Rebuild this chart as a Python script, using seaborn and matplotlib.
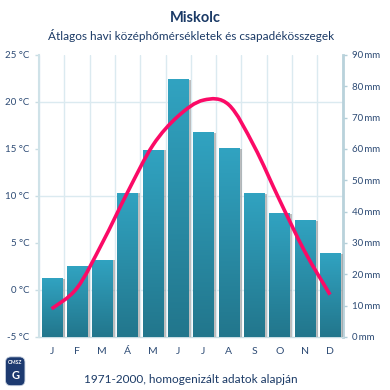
"""Miskolc climate chart: monthly mean temperature and precipitation."""

import matplotlib

matplotlib.use("Agg")
import matplotlib.pyplot as plt
import numpy as np
import pandas as pd
import seaborn as sns
from matplotlib.colors import LinearSegmentedColormap
from matplotlib.patches import FancyBboxPatch, PathPatch
from matplotlib.path import Path
from matplotlib.patheffects import Normal, SimplePatchShadow
from matplotlib.ticker import FixedLocator


MONTHS = ["J", "F", "M", "Á", "M", "J", "J", "A", "S", "O", "N", "D"]
PRECIP_MM = [18.8, 22.5, 24.7, 46.1, 59.8, 82.2, 65.4, 60.3, 46.0, 39.5, 37.4, 26.8]
TEMP_C = [-2.0, 0.2, 5.0, 10.4, 15.4, 18.5, 20.2, 19.7, 15.3, 9.6, 4.1, -0.5]
TEMP_TICKS = [-5, 0, 5, 10, 15, 20, 25]
PRECIP_TICKS = [0, 10, 20, 30, 40, 50, 60, 70, 80, 90]

TITLE = "Miskolc"
SUBTITLE = "Átlagos havi középhőmérsékletek és csapadékösszegek"
FOOTNOTE = "1971-2000, homogenizált adatok alapján"

TEXT_COLOR = "#2c4a74"
TITLE_COLOR = "#1b3a66"
GRID_COLOR = "#dbeaf0"
BAR_TOP = "#31a3c1"
BAR_BOTTOM = "#22768c"
LINE_COLOR = "#fb0a66"


def smooth_path(xs, ys) -> Path:
    """Catmull-Rom curve through the points, as cubic Bezier segments."""
    pts = np.column_stack([xs, ys]).astype(float)
    n = len(pts)
    verts = [pts[0]]
    codes = [Path.MOVETO]
    for i in range(n - 1):
        p0 = pts[max(i - 1, 0)]
        p1 = pts[i]
        p2 = pts[i + 1]
        p3 = pts[min(i + 2, n - 1)]
        verts += [p1 + (p2 - p0) / 6, p2 - (p3 - p1) / 6, p2]
        codes += [Path.CURVE4] * 3
    return Path(verts, codes)


def main() -> None:
    sns.set_style("white")
    plt.rcParams["font.family"] = ["Lato", "DejaVu Sans"]

    data = pd.DataFrame(
        {"pos": np.arange(len(MONTHS)), "precip": PRECIP_MM, "temp": TEMP_C}
    )

    fig = plt.figure(figsize=(3.9, 3.9), dpi=100)
    ax_p = fig.add_axes([0.1, 0.1359, 0.7787, 0.7231])
    ax_t = ax_p.twinx()

    t_min, t_max = TEMP_TICKS[0], TEMP_TICKS[-1]
    p_min, p_max = PRECIP_TICKS[0], PRECIP_TICKS[-1]

    # bars (precipitation) on the back axes
    sns.barplot(
        data=data,
        x="pos",
        y="precip",
        ax=ax_p,
        color=BAR_TOP,
        width=0.8,
        saturation=1,
        edgecolor="none",
        zorder=3,
    )
    cmap = LinearSegmentedColormap.from_list("bar", [BAR_BOTTOM, BAR_TOP])
    gradient = np.linspace(0, 1, 256).reshape(-1, 1)
    for patch in ax_p.patches:
        patch.set_path_effects(
            [
                SimplePatchShadow(
                    offset=(2, -0.5), shadow_rgbFace="#8c8c8c", alpha=0.55
                ),
                Normal(),
            ]
        )
        x0, y0 = patch.get_x(), patch.get_y()
        img = ax_p.imshow(
            gradient,
            cmap=cmap,
            origin="lower",
            aspect="auto",
            extent=[x0, x0 + patch.get_width(), y0, y0 + patch.get_height()],
            zorder=3.1,
        )
        img.set_clip_path(patch)

    ax_p.set_xlim(-0.5, len(MONTHS) - 0.5)
    ax_p.set_ylim(p_min, p_max)

    # grid: vertical lines at month boundaries, horizontal at temperature ticks
    boundaries = np.arange(len(MONTHS) + 1) - 0.5
    grid_mm = [
        (t - t_min) / (t_max - t_min) * (p_max - p_min) + p_min for t in TEMP_TICKS
    ]
    ax_p.xaxis.set_minor_locator(FixedLocator(boundaries))
    ax_p.yaxis.set_minor_locator(FixedLocator(grid_mm))
    ax_p.grid(which="minor", color=GRID_COLOR, linewidth=1.0)
    ax_p.grid(which="major", visible=False)
    ax_p.set_axisbelow(True)

    ax_p.set_xticks(data["pos"], labels=MONTHS)
    ax_p.tick_params(
        axis="x", which="major", length=0, pad=7, labelsize=7.5, labelcolor=TEXT_COLOR
    )
    ax_p.tick_params(
        axis="x", which="minor", length=3.5, width=1, color="#c9dde4", direction="out"
    )
    ax_p.yaxis.tick_right()
    ax_p.set_yticks(PRECIP_TICKS, labels=[f"{v}\u2009mm" for v in PRECIP_TICKS])
    ax_p.tick_params(
        axis="y",
        which="major",
        length=3,
        width=1,
        color="#b4cfd9",
        pad=4,
        labelsize=7,
        labelcolor=TEXT_COLOR,
        right=True,
        left=False,
    )
    ax_p.tick_params(axis="y", which="minor", length=0)
    ax_p.set_xlabel("")
    ax_p.set_ylabel("")

    for side in ["top", "left"]:
        ax_p.spines[side].set_visible(False)
    ax_p.spines["right"].set_color("#b9d2db")
    ax_p.spines["right"].set_linewidth(2)
    ax_p.spines["bottom"].set_color("#c9dde4")
    ax_p.spines["bottom"].set_linewidth(1)

    # temperature line on the front axes
    ax_t.set_ylim(t_min, t_max)
    ax_t.add_patch(
        PathPatch(
            smooth_path(data["pos"], data["temp"]),
            facecolor="none",
            edgecolor=LINE_COLOR,
            linewidth=2.6,
            capstyle="butt",
            zorder=5,
        )
    )
    ax_t.yaxis.tick_left()
    ax_t.set_yticks(TEMP_TICKS, labels=[f"{v} °C" for v in TEMP_TICKS])
    ax_t.tick_params(
        axis="y",
        length=3,
        width=1,
        color="#c9dde4",
        pad=4,
        labelsize=7,
        labelcolor=TEXT_COLOR,
        left=True,
        right=False,
    )
    for side in ["top", "right", "bottom"]:
        ax_t.spines[side].set_visible(False)
    ax_t.spines["left"].set_color("#cfe2e8")
    ax_t.spines["left"].set_linewidth(1.5)

    # titles
    fig.text(0.5, 0.955, TITLE, ha="center", va="center", fontsize=10.5,
             fontweight="bold", color=TITLE_COLOR)
    fig.text(0.489, 0.910, SUBTITLE, ha="center", va="center", fontsize=8.5,
             color=TITLE_COLOR)
    fig.text(0.49, 0.028, FOOTNOTE, ha="center", va="center", fontsize=8.5,
             color=TITLE_COLOR)

    # small OMSZ shield in the lower left corner
    fig.patches.append(
        FancyBboxPatch(
            (0.014, 0.011), 0.05, 0.074,
            boxstyle="round,pad=0,rounding_size=0.014",
            transform=fig.transFigure, facecolor="#1d3a70",
            edgecolor="#c8d2e0", linewidth=0.6,
        )
    )
    fig.text(0.039, 0.071, "OMSZ", ha="center", va="center", fontsize=3.6,
             fontweight="bold", color="white")
    fig.text(0.039, 0.036, "G", ha="center", va="center", fontsize=8,
             fontweight="bold", color="white")

    fig.savefig("out.png", dpi=100, facecolor="white")
    plt.close(fig)


if __name__ == "__main__":
    main()
